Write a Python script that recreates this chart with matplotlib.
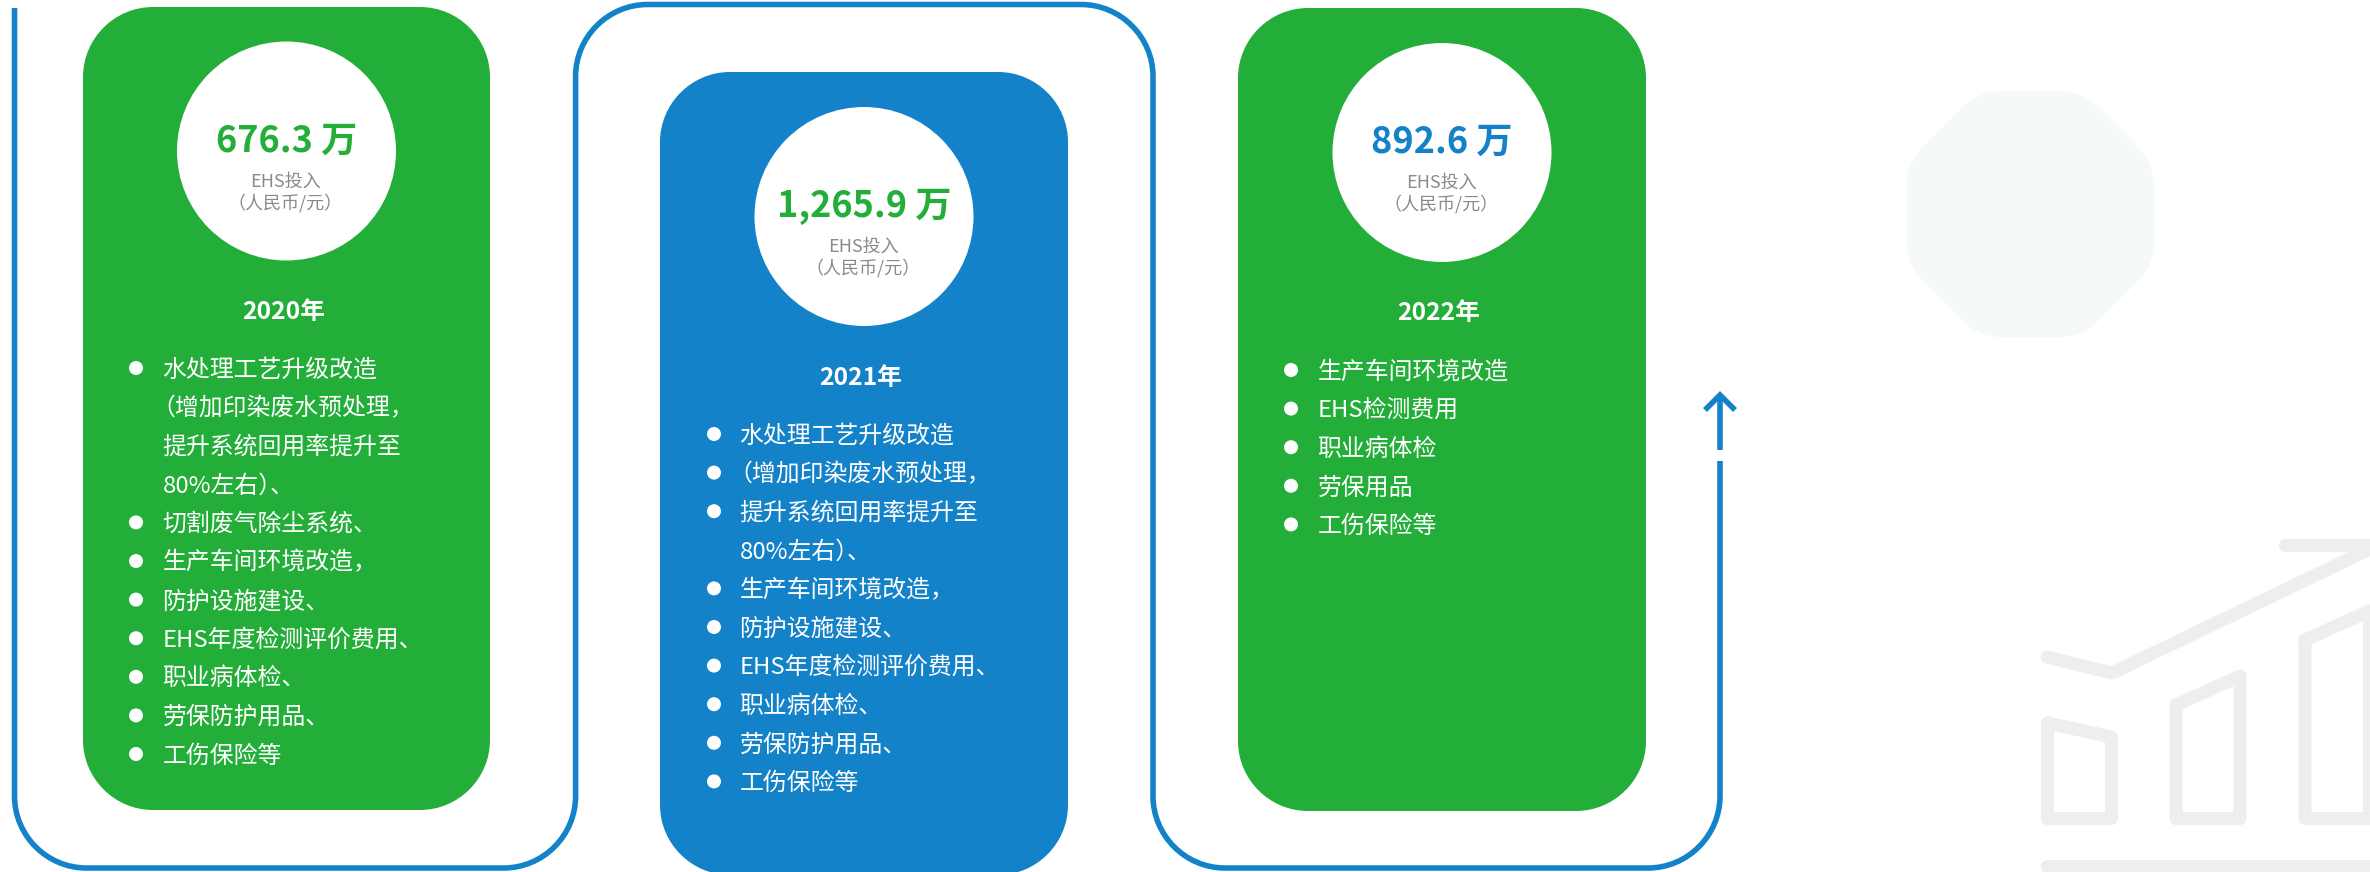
import matplotlib
matplotlib.use('Agg')
import matplotlib.pyplot as plt
from matplotlib.patches import Circle, PathPatch
from matplotlib.path import Path

plt.rcParams['font.family'] = ['Noto Sans CJK SC', 'DejaVu Sans']

GREEN = '#23ae39'
BLUE = '#1482c8'
GREY = '#8a8a8a'
ICON = '#eeeeed'

years = ['2020年', '2021年', '2022年']
amounts = ['676.3 万', '1,265.9 万', '892.6 万']
amount_label = 'EHS投入\n（人民币/元）'

items_2020 = ['水处理工艺升级改造', '（增加印染废水预处理，', '提升系统回用率提升至', '80%左右）、',
              '切割废气除尘系统、', '生产车间环境改造，', '防护设施建设、', 'EHS年度检测评价费用、',
              '职业病体检、', '劳保防护用品、', '工伤保险等']
items_2021 = ['水处理工艺升级改造', '（增加印染废水预处理，', '提升系统回用率提升至', '80%左右）、',
              '生产车间环境改造，', '防护设施建设、', 'EHS年度检测评价费用、',
              '职业病体检、', '劳保防护用品、', '工伤保险等']
items_2022 = ['生产车间环境改造', 'EHS检测费用', '职业病体检', '劳保用品', '工伤保险等']
no_bullet_2020 = [1, 2, 3]
no_bullet_2021 = [3]
no_bullet_2022 = []


def rounded_path(pts, r, closed=False):
    # polyline with rounded corners
    verts = []
    codes = []
    n = len(pts)
    for i in range(n):
        x, y = pts[i]
        if not closed and (i == 0 or i == n - 1):
            verts.append((x, y))
            codes.append(Path.MOVETO if i == 0 else Path.LINETO)
            continue
        px, py = pts[i - 1]
        nx, ny = pts[(i + 1) % n]
        d1 = ((px - x) ** 2 + (py - y) ** 2) ** 0.5
        d2 = ((nx - x) ** 2 + (ny - y) ** 2) ** 0.5
        a = (x + (px - x) * r / d1, y + (py - y) * r / d1)
        b = (x + (nx - x) * r / d2, y + (ny - y) * r / d2)
        verts.append(a)
        codes.append(Path.MOVETO if closed and i == 0 else Path.LINETO)
        k = 0.55
        verts.append((a[0] + (x - a[0]) * k, a[1] + (y - a[1]) * k))
        codes.append(Path.CURVE4)
        verts.append((b[0] + (x - b[0]) * k, b[1] + (y - b[1]) * k))
        codes.append(Path.CURVE4)
        verts.append(b)
        codes.append(Path.CURVE4)
    if closed:
        verts.append(verts[0])
        codes.append(Path.CLOSEPOLY)
    return Path(verts, codes)


def draw_item(ax, text_x, y, line):
    # the reference sets brackets tighter than a full em, so nudge those glyphs
    if line.startswith('（'):
        text_x -= 11
    if line.endswith('）、'):
        ax.text(text_x, y, line[:-1], color='white', fontsize=17.2, ha='left', va='center', zorder=4)
        ax.text(text_x + 107, y, '、', color='white', fontsize=17.2, ha='left', va='center', zorder=4)
    else:
        ax.text(text_x, y, line, color='white', fontsize=17.2, ha='left', va='center', zorder=4)


def draw_card(ax, x0, y0, x1, y1, color, cx, cy, amount, amount_color, amount_y, label_y,
              year, year_x, year_y, items, no_bullet, bullet_x, text_x, row_y):
    corners = [(x0, y0), (x1, y0), (x1, y1), (x0, y1)]
    ax.add_patch(PathPatch(rounded_path(corners, 70, closed=True), fc=color, ec='none', zorder=2))
    ax.add_patch(Circle((cx, cy), 109.5, fc='white', ec='none', zorder=3))
    ax.text(cx, amount_y + 2.5, amount, color=amount_color, fontsize=26, fontweight='bold',
            ha='center', va='center', zorder=4)
    for i, line in enumerate(amount_label.split('\n')):
        ax.text(cx - 1, label_y + 1.5 + i * 22, line, color=GREY, fontsize=13,
                ha='center', va='center', zorder=4)
    ax.text(year_x, year_y + 2.5, year, color='white', fontsize=17.8, fontweight='bold',
            ha='center', va='center', zorder=4)
    for i, line in enumerate(items):
        y = row_y + i * 38.6
        if i not in no_bullet:
            ax.add_patch(Circle((bullet_x, y), 7, fc='white', ec='none', zorder=4))
        draw_item(ax, text_x - 0.5, y + 2, line)


fig = plt.figure(figsize=(23.7, 8.72), dpi=100)
ax = fig.add_axes([0, 0, 1, 1])
ax.set_xlim(0, 2370)
ax.set_ylim(872, 0)
ax.axis('off')

# background octagon
octagon = [(1979, 91), (2082, 91), (2154, 163), (2154, 265),
           (2082, 337), (1979, 337), (1907, 265), (1907, 163)]
ax.add_patch(PathPatch(rounded_path(octagon, 20, closed=True), fc='#f6f9fa', ec='none', zorder=1))

# faint icon, bottom right
for bar in ([(2047.5, 723), (2111.5, 737), (2111.5, 818.5), (2047.5, 818.5)],
            [(2176, 705), (2240, 676), (2240, 818.5), (2176, 818.5)],
            [(2305, 640), (2369.5, 611), (2369.5, 818.5), (2305, 818.5)]):
    xs = [p[0] for p in bar] + [bar[0][0]]
    ys = [p[1] for p in bar] + [bar[0][1]]
    ax.plot(xs, ys, color=ICON, lw=9.4, solid_joinstyle='round', solid_capstyle='round', zorder=1)
ax.plot([2047, 2112, 2372], [657, 673, 548], color=ICON, lw=9.4,
        solid_joinstyle='round', solid_capstyle='round', zorder=1)
ax.plot([2285, 2380], [545, 545], color=ICON, lw=9.4, solid_capstyle='round', zorder=1)
ax.plot([2047, 2380], [866, 866], color=ICON, lw=9.4, solid_capstyle='round', zorder=1)

# snake line
snake = [(14.5, 8), (14.5, 868), (575.6, 868), (575.6, 4.5), (1153, 4.5),
         (1153, 868), (1720, 868), (1720, 461)]
ax.add_patch(PathPatch(rounded_path(snake, 72), fc='none', ec=BLUE, lw=4,
                       capstyle='butt', zorder=2))
ax.plot([1720, 1720], [450, 397], color=BLUE, lw=4, solid_capstyle='butt', zorder=2)
ax.plot([1705, 1720, 1735], [410, 395, 410], color=BLUE, lw=4,
        solid_joinstyle='miter', solid_capstyle='butt', zorder=2)

draw_card(ax, 83, 7, 490, 810, GREEN, 286.5, 151, amounts[0], GREEN, 139, 180,
          years[0], 284, 309, items_2020, no_bullet_2020, 136, 163, 368)
draw_card(ax, 660, 72, 1068, 875, BLUE, 864, 216.5, amounts[1], GREEN, 204, 245,
          years[1], 861, 375, items_2021, no_bullet_2021, 714, 740, 434)
draw_card(ax, 1238, 8, 1646, 811, GREEN, 1442, 152.5, amounts[2], BLUE, 140, 181,
          years[2], 1439, 310, items_2022, no_bullet_2022, 1291, 1318, 370)

plt.savefig('out.png', dpi=100)
